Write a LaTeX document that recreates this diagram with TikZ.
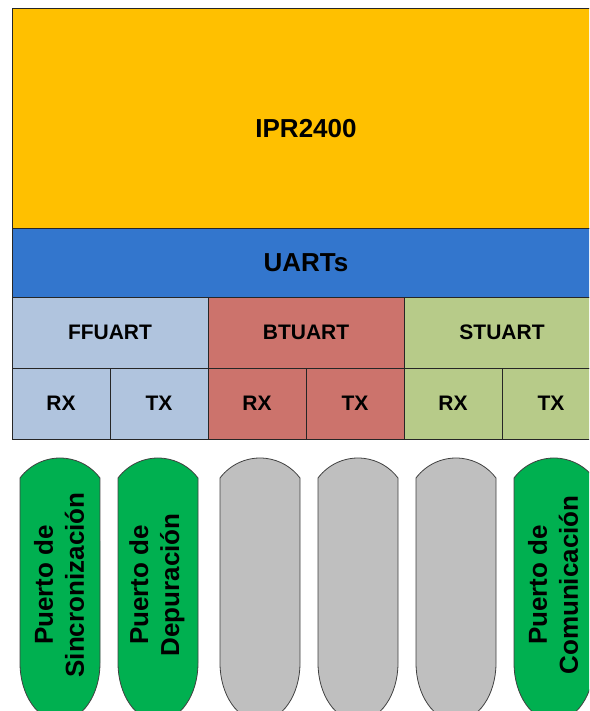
\documentclass[tikz,border=0pt]{standalone}
\usepackage{fontspec}
\setmainfont{Liberation Sans}

\definecolor{ipryellow}{RGB}{255,192,0}
\definecolor{uartblue}{RGB}{51,118,205}
\definecolor{ffblue}{RGB}{176,196,222}
\definecolor{btred}{RGB}{204,115,108}
\definecolor{stgreen}{RGB}{183,203,137}
\definecolor{portgreen}{RGB}{0,176,80}
\definecolor{portgray}{RGB}{191,191,191}

\tikzset{
    cell/.style={draw=black!85, line width=0.9pt, inner sep=0pt,
        font=\bfseries\fontsize{21}{25}\selectfont},
    bigcell/.style={cell, font=\bfseries\fontsize{26}{31}\selectfont},
    port/.style={draw=black!75, line width=0.8pt},
    portlabel/.style={rotate=90, align=center,
        font=\bfseries\fontsize{26}{31}\selectfont},
}

% one rounded port body, left edge at #1
\newcommand{\portbody}[2]{%
    \filldraw[port, fill=#2] (#1,48) -- (#1,233)
        arc[start angle=143.13, end angle=36.87, radius=50]
        -- (#1+80,48)
        arc[start angle=0, end angle=-180, x radius=40, y radius=58] -- cycle;}

\begin{document}
\begin{tikzpicture}[x=1pt, y=1pt]
    \clip (0,0) rectangle (589,711);

    % Processor
    \node[bigcell, fill=ipryellow, minimum width=588, minimum height=220] (ipr) at (306,593) {};
    \node[font=\bfseries\fontsize{26}{31}\selectfont] (iprtext) at ([yshift=-10.5pt]ipr.center) {IPR2400};

    % UART block
    \node[bigcell, fill=uartblue, minimum width=588, minimum height=69] (uarts) at (306,448.5) {UARTs};

    \node[cell, fill=ffblue, minimum width=196, minimum height=71] (ffuart) at (110,378.5) {FFUART};
    \node[cell, fill=btred, minimum width=196, minimum height=71] (btuart) at (306,378.5) {BTUART};
    \node[cell, fill=stgreen, minimum width=196, minimum height=71] (stuart) at (502,378.5) {STUART};

    \node[cell, fill=ffblue, minimum width=98, minimum height=71] (ffrx) at (61,307.5) {RX};
    \node[cell, fill=ffblue, minimum width=98, minimum height=71] (fftx) at (159,307.5) {TX};
    \node[cell, fill=btred, minimum width=98, minimum height=71] (btrx) at (257,307.5) {RX};
    \node[cell, fill=btred, minimum width=98, minimum height=71] (bttx) at (355,307.5) {TX};
    \node[cell, fill=stgreen, minimum width=98, minimum height=71] (strx) at (453,307.5) {RX};
    \node[cell, fill=stgreen, minimum width=98, minimum height=71] (sttx) at (551,307.5) {TX};

    % Ports
    \portbody{20}{portgreen}
    \portbody{118}{portgreen}
    \portbody{220}{portgray}
    \portbody{318}{portgray}
    \portbody{416}{portgray}
    \portbody{514}{portgreen}

    \node[portlabel] (sync) at (59,126) {Puerto de\\Sincronización};
    \node[portlabel] (debug) at (157,126) {Puerto de\\Depuración};
    \node[portlabel] (comm) at (553,126) {Puerto de\\Comunicación};

\end{tikzpicture}
\end{document}
